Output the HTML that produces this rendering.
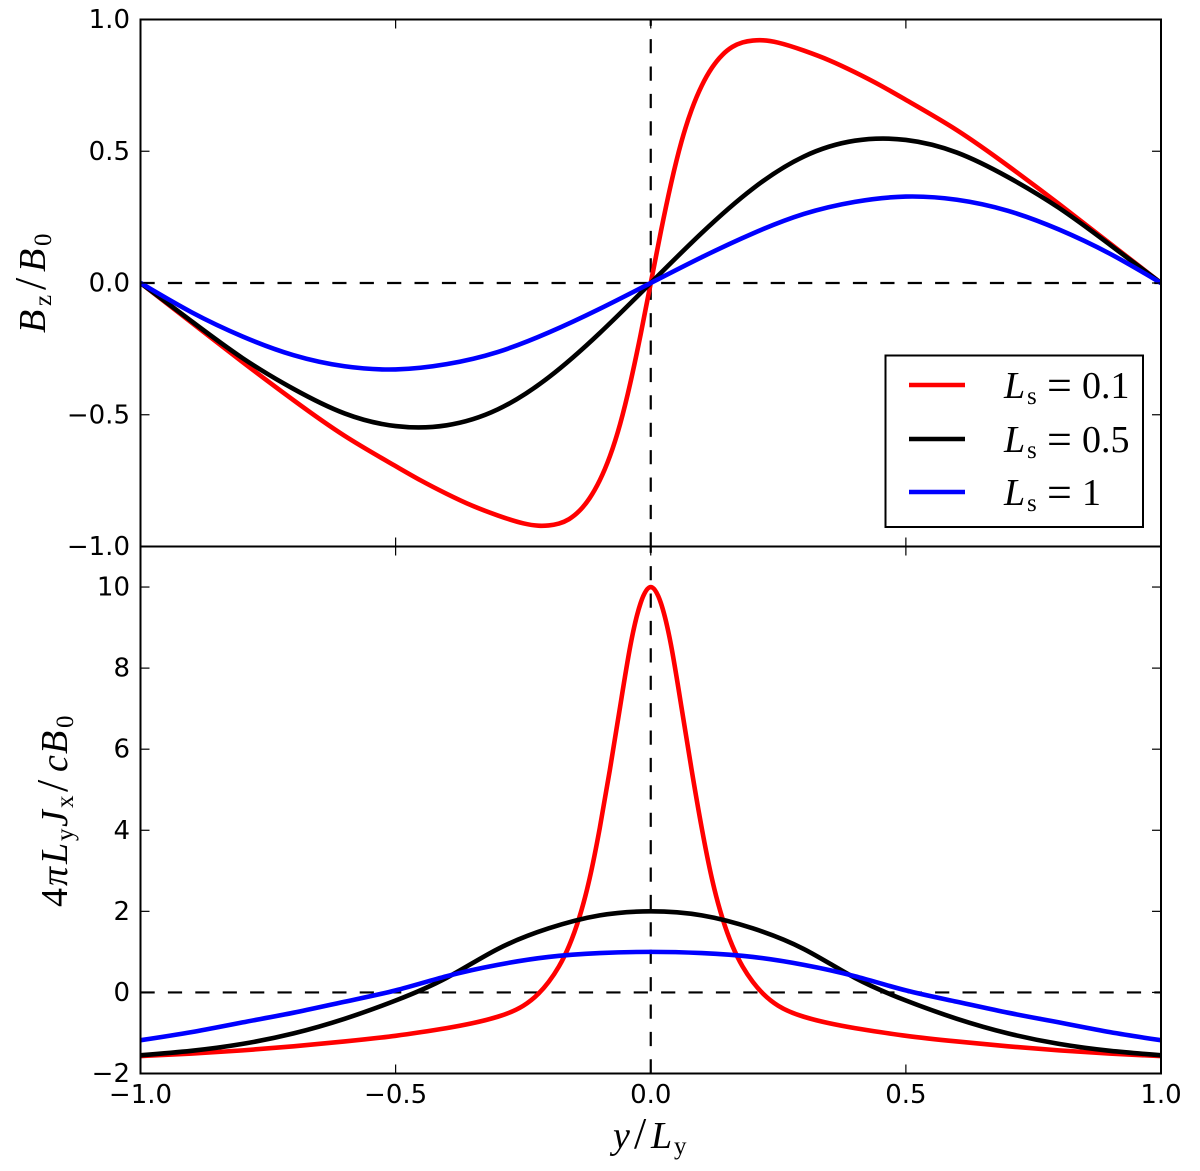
<!DOCTYPE html>
<html lang="en">
<head>
<meta charset="utf-8">
<title>Bz and Jx profiles</title>
<style>
html,body{margin:0;padding:0;background:#fff;}
svg{display:block;}
.tick{font-family:"DejaVu Sans",sans-serif;font-size:26px;fill:#000;}
.math{font-family:"Liberation Serif",serif;fill:#000;font-size:38px;}
.i{font-style:italic;}
.sub{font-size:25px;}
.op{font-size:44px;}
</style>
</head>
<body>
<svg id="chart" xmlns="http://www.w3.org/2000/svg" width="1200" height="1171" viewBox="0 0 1200 1171">
  <defs>
    <clipPath id="clip-top"><rect x="140.5" y="19.5" width="1020.5" height="527"/></clipPath>
    <clipPath id="clip-bottom"><rect x="140.5" y="546.5" width="1020.5" height="527"/></clipPath>
  </defs>
  <rect x="0" y="0" width="1200" height="1171" fill="#fff"/>
  <g id="layer-top" clip-path="url(#clip-top)"></g>
  <g id="layer-bottom" clip-path="url(#clip-bottom)"></g>
  <g id="layer-ticks"></g>
  <rect x="140.5" y="19.5" width="1020.5" height="527" fill="none" stroke="#000" stroke-width="2"/>
  <rect x="140.5" y="546.5" width="1020.5" height="527" fill="none" stroke="#000" stroke-width="2"/>

  <text class="math" transform="translate(45,283) rotate(-90)"><tspan class="i" x="-50" y="0">B</tspan><tspan class="sub" x="-23" y="6">z</tspan><tspan class="op" x="-7" y="0">/</tspan><tspan class="i" x="11" y="0">B</tspan><tspan class="sub" x="37" y="6">0</tspan></text>
  <text class="math" transform="translate(67,812) rotate(-90)"><tspan x="-95" y="0">4</tspan><tspan class="i" x="-74" y="0">π</tspan><tspan class="i" x="-52" y="0">L</tspan><tspan class="sub" x="-29" y="6">y</tspan><tspan class="i" x="-15" y="0">J</tspan><tspan class="sub" x="4" y="6">x</tspan><tspan class="op" x="20" y="0">/</tspan><tspan class="i" x="40" y="0">c</tspan><tspan class="i" x="58" y="0">B</tspan><tspan class="sub" x="84" y="6">0</tspan></text>
  <text class="math" y="1148"><tspan class="i" x="613" y="1148">y</tspan><tspan class="op" x="634" y="1148">/</tspan><tspan class="i" x="651" y="1148">L</tspan><tspan class="sub" x="674" y="1154">y</tspan></text>

  <g>
    <rect x="885.5" y="355.5" width="257.5" height="171.5" fill="#fff" stroke="#000" stroke-width="2"/>
    <line x1="909" x2="965" y1="385" y2="385" stroke="#f00" stroke-width="4.6"/>
    <line x1="909" x2="965" y1="439" y2="439" stroke="#000" stroke-width="4.6"/>
    <line x1="909" x2="965" y1="492" y2="492" stroke="#00f" stroke-width="4.6"/>
    <text class="math"><tspan class="i" x="1004" y="398">L</tspan><tspan class="sub" x="1027" y="404">s</tspan><tspan class="op" x="1047" y="400">=</tspan><tspan x="1082" y="398">0.1</tspan></text>
    <text class="math"><tspan class="i" x="1004" y="452">L</tspan><tspan class="sub" x="1027" y="458">s</tspan><tspan class="op" x="1047" y="454">=</tspan><tspan x="1082" y="452">0.5</tspan></text>
    <text class="math"><tspan class="i" x="1004" y="505">L</tspan><tspan class="sub" x="1027" y="511">s</tspan><tspan class="op" x="1047" y="507">=</tspan><tspan x="1082" y="505">1</tspan></text>
  </g>
</svg>
<script>
const xTicks = [-1, -0.5, 0, 0.5, 1];
const xTickLabels = ["\u22121.0", "\u22120.5", "0.0", "0.5", "1.0"];
const topYTicks = [-1, -0.5, 0, 0.5, 1];
const topYTickLabels = ["\u22121.0", "\u22120.5", "0.0", "0.5", "1.0"];
const bottomYTicks = [-2, 0, 2, 4, 6, 8, 10];
const bottomYTickLabels = ["\u22122", "0", "2", "4", "6", "8", "10"];

const yFine = [-1,-0.9,-0.8,-0.7,-0.6,-0.5,-0.45,-0.4,-0.35,-0.3,-0.25,-0.22,-0.2,-0.18,-0.16,-0.14,-0.12,-0.1,-0.08,-0.06,-0.04,-0.02,0,0.02,0.04,0.06,0.08,0.1,0.12,0.14,0.16,0.18,0.2,0.22,0.25,0.3,0.35,0.4,0.45,0.5,0.6,0.7,0.8,0.9,1];
const yCoarse = [-1,-0.9,-0.8,-0.7,-0.6,-0.5,-0.4,-0.3,-0.2,-0.1,0,0.1,0.2,0.3,0.4,0.5,0.6,0.7,0.8,0.9,1];

const bzRed = [0,-0.15,-0.3,-0.445,-0.58,-0.695,-0.75,-0.8,-0.845,-0.882,-0.912,-0.921,-0.92,-0.913,-0.896,-0.865,-0.817,-0.749,-0.657,-0.535,-0.379,-0.197,0,0.197,0.379,0.535,0.657,0.749,0.817,0.865,0.896,0.913,0.92,0.921,0.912,0.882,0.845,0.8,0.75,0.695,0.58,0.445,0.3,0.15,0];
const bzBlack = [0,-0.145,-0.285,-0.402,-0.495,-0.543,-0.54,-0.48,-0.358,-0.19,0,0.19,0.358,0.48,0.54,0.543,0.495,0.402,0.285,0.145,0];
const bzBlue = [0,-0.111,-0.203,-0.274,-0.316,-0.328,-0.308,-0.262,-0.188,-0.098,0,0.098,0.188,0.262,0.308,0.328,0.316,0.274,0.203,0.111,0];

const jxRed = [-1.57,-1.51,-1.43,-1.33,-1.21,-1.07,-0.98,-0.88,-0.76,-0.6,-0.33,-0.03,0.26,0.64,1.15,1.85,2.8,4.05,5.5,7.05,8.55,9.6,10,9.6,8.55,7.05,5.5,4.05,2.8,1.85,1.15,0.64,0.26,-0.03,-0.33,-0.6,-0.76,-0.88,-0.98,-1.07,-1.21,-1.33,-1.43,-1.51,-1.57];
const jxBlack = [-1.55,-1.44,-1.27,-1.01,-0.65,-0.2,0.36,1.07,1.58,1.9,2,1.9,1.58,1.07,0.36,-0.2,-0.65,-1.01,-1.27,-1.44,-1.55];
const jxBlue = [-1.18,-0.98,-0.74,-0.5,-0.23,0.05,0.4,0.68,0.875,0.97,1,0.97,0.875,0.68,0.4,0.05,-0.23,-0.5,-0.74,-0.98,-1.18];

const NS = "http://www.w3.org/2000/svg";
const plotLeft = 140.5, plotRight = 1161;
const topTop = 19.5, topBottom = 546.5;
const botTop = 546.5, botBottom = 1073.5;
const xMin = -1, xMax = 1;
const bottomYMin = -2, bottomYMax = 11;

function xScale(v) { return plotLeft + (v - xMin) / (xMax - xMin) * (plotRight - plotLeft); }
function topScale(v) { return topBottom - (v + 1) / 2 * (topBottom - topTop); }
function botScale(v) { return botBottom - (v - bottomYMin) / (bottomYMax - bottomYMin) * (botBottom - botTop); }

function make(tag, parent, props) {
  const el = document.createElementNS(NS, tag);
  for (const k in props) el.setAttribute(k, props[k]);
  parent.appendChild(el);
  return el;
}

// C2 cubic spline through the data points, written as Bezier segments.
function smoothPath(xs, ys, sx, sy) {
  const px = xs.map(sx), py = ys.map(sy);
  const n = px.length;
  const h = [], s = [];
  for (let i = 0; i < n - 1; i++) {
    h.push(px[i + 1] - px[i]);
    s.push((py[i + 1] - py[i]) / h[i]);
  }
  const a = new Array(n).fill(0), b = new Array(n).fill(0), c = new Array(n).fill(0), r = new Array(n).fill(0);
  b[0] = 2; c[0] = 1; r[0] = 3 * s[0];
  b[n - 1] = 2; a[n - 1] = 1; r[n - 1] = 3 * s[n - 2];
  for (let i = 1; i < n - 1; i++) {
    a[i] = h[i];
    b[i] = 2 * (h[i - 1] + h[i]);
    c[i] = h[i - 1];
    r[i] = 3 * (h[i] * s[i - 1] + h[i - 1] * s[i]);
  }
  for (let i = 1; i < n; i++) {
    const f = a[i] / b[i - 1];
    b[i] -= f * c[i - 1];
    r[i] -= f * r[i - 1];
  }
  const m = new Array(n).fill(0);
  m[n - 1] = r[n - 1] / b[n - 1];
  for (let i = n - 2; i >= 0; i--) m[i] = (r[i] - c[i] * m[i + 1]) / b[i];
  let d = "M" + px[0].toFixed(2) + " " + py[0].toFixed(2);
  for (let i = 0; i < n - 1; i++) {
    d += " C" + (px[i] + h[i] / 3).toFixed(2) + " " + (py[i] + m[i] * h[i] / 3).toFixed(2) + " " +
      (px[i + 1] - h[i] / 3).toFixed(2) + " " + (py[i + 1] - m[i + 1] * h[i] / 3).toFixed(2) + " " +
      px[i + 1].toFixed(2) + " " + py[i + 1].toFixed(2);
  }
  return d;
}

const layerTop = document.getElementById("layer-top");
const layerBottom = document.getElementById("layer-bottom");
const layerTicks = document.getElementById("layer-ticks");
const dashStyle = { stroke: "#000", "stroke-width": 2.2, "stroke-dasharray": "14.2 13.2", fill: "none" };

// reference lines: top panel
const hTop = make("line", layerTop, Object.assign({ x1: plotLeft, x2: plotRight, y1: topScale(0), y2: topScale(0) }, dashStyle));


const vTop = make("line", layerTop, Object.assign({ x1: xScale(0), x2: xScale(0), y1: topBottom, y2: topTop }, dashStyle));



// reference lines: bottom panel
const hBot = make("line", layerBottom, Object.assign({ x1: plotLeft, x2: plotRight, y1: botScale(0), y2: botScale(0) }, dashStyle));


const vBot = make("line", layerBottom, Object.assign({ x1: xScale(0), x2: xScale(0), y1: botBottom, y2: botTop }, dashStyle));



// curves
function curve(parent, xs, ys, sy, color) {
  return make("path", parent, { d: smoothPath(xs, ys, xScale, sy), fill: "none", stroke: color, "stroke-width": 4.6, "stroke-linejoin": "round" });
}
const c1 = curve(layerTop, yFine, bzRed, topScale, "#f00");


const c2 = curve(layerTop, yCoarse, bzBlack, topScale, "#000");


const c3 = curve(layerTop, yCoarse, bzBlue, topScale, "#00f");


const c4 = curve(layerBottom, yFine, jxRed, botScale, "#f00");


const c5 = curve(layerBottom, yCoarse, jxBlack, botScale, "#000");


const c6 = curve(layerBottom, yCoarse, jxBlue, botScale, "#00f");



// ticks
const tickLen = 9;
function tickLine(x1, y1, x2, y2) {
  const t = make("line", layerTicks, { x1: x1, y1: y1, x2: x2, y2: y2, stroke: "#000", "stroke-width": 1.2 });
  
  
}
function tickText(x, y, anchor, str) {
  const t = make("text", layerTicks, { x: x, y: y, "text-anchor": anchor, class: "tick" });
  
  
  t.textContent = str;
}
xTicks.forEach(function (v, i) {
  const x = xScale(v);
  tickLine(x, topTop, x, topTop + tickLen);
  tickLine(x, topBottom, x, topBottom - tickLen);
  tickLine(x, botTop, x, botTop + tickLen);
  tickLine(x, botBottom, x, botBottom - tickLen);
  tickText(x, 1103, "middle", xTickLabels[i]);
});
topYTicks.forEach(function (v, i) {
  const y = topScale(v);
  tickLine(plotLeft, y, plotLeft + tickLen, y);
  tickLine(plotRight, y, plotRight - tickLen, y);
  tickText(130, y + 8.5, "end", topYTickLabels[i]);
});
bottomYTicks.forEach(function (v, i) {
  const y = botScale(v);
  tickLine(plotLeft, y, plotLeft + tickLen, y);
  tickLine(plotRight, y, plotRight - tickLen, y);
  tickText(130, y + 8.5, "end", bottomYTickLabels[i]);
});
</script>
</body>
</html>
